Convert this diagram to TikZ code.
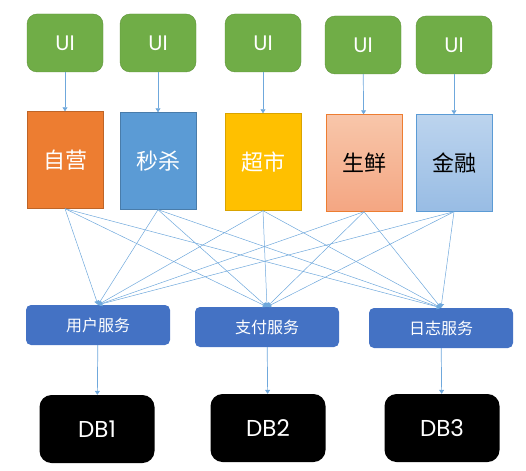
\documentclass[tikz,border=0pt]{standalone}
\usepackage{fontspec}
\setmainfont{Poppins}
\newfontfamily\cjk{Noto Sans CJK SC}
\usetikzlibrary{arrows.meta}
\definecolor{uigreen}{HTML}{70AD47}
\definecolor{uiedge}{HTML}{5E9339}
\definecolor{bizorange}{HTML}{ED7D31}
\definecolor{bizblue}{HTML}{5B9BD5}
\definecolor{bizyellow}{HTML}{FFC000}
\definecolor{freshtop}{HTML}{F8C6AA}
\definecolor{freshbot}{HTML}{F4A682}
\definecolor{fintop}{HTML}{BCD4EE}
\definecolor{finbot}{HTML}{98BCE4}
\definecolor{svcblue}{HTML}{4472C4}
\definecolor{linkblue}{HTML}{6FA8DC}
\begin{document}
\begin{tikzpicture}[x=1pt,y=-1pt,>={Triangle[width=5pt,length=4pt]},
  ui/.style={draw=uiedge,fill=uigreen,rounded corners=10pt,minimum width=76pt,
    minimum height=58pt,text=white,font=\fontsize{21}{21}\selectfont},
  biz/.style={draw,minimum width=76pt,minimum height=97pt,
    font=\cjk\fontsize{22}{22}\selectfont},
  svc/.style={fill=svcblue,rounded corners=5pt,minimum width=144pt,
    minimum height=40pt,text=white,font=\cjk\fontsize{16}{16}\selectfont},
  db/.style={fill=black,rounded corners=12pt,minimum width=115pt,
    minimum height=68pt,text=white,font=\fontsize{23}{23}\selectfont},
  edge/.style={->,draw=linkblue,line width=0.7pt},
  link/.style={->,draw=linkblue,line width=0.5pt}]
\useasboundingbox (0,0) rectangle (526,470);
% front ends
\node[ui] (ui1) at (65,43) {UI};
\node[ui] (ui2) at (158,43) {UI};
\node[ui] (ui3) at (263,43) {UI};
\node[ui] (ui4) at (363,45) {UI};
\node[ui] (ui5) at (454,45) {UI};
% business lines
\node[biz,draw=bizorange!80!black,fill=bizorange,text=white] (ziying) at (65,160) {自营};
\node[biz,draw=bizblue!80!black,fill=bizblue,text=white] (miaosha) at (158,161) {秒杀};
\node[biz,draw=bizyellow!85!black,fill=bizyellow,text=white] (chaoshi) at (263,162) {超市};
\node[biz,draw=bizorange,top color=freshtop,bottom color=freshbot,
  text=black] (shengxian) at (364,163) {生鲜};
\node[biz,draw=bizblue,top color=fintop,bottom color=finbot,
  text=black] (jinrong) at (454,163) {金融};
% shared services
\node[svc] (user) at (98,325) {用户服务};
\node[svc] (pay) at (267,327) {支付服务};
\node[svc] (log) at (441,328) {日志服务};
% databases
\node[db] (db1) at (97,429) {DB1};
\node[db] (db2) at (268,428) {DB2};
\node[db] (db3) at (442,428) {DB3};
\draw[edge] (ui1)--(ziying);
\draw[edge] (ui2)--(miaosha);
\draw[edge] (ui3)--(chaoshi);
\draw[edge] (ui4)--(shengxian);
\draw[edge] (ui5)--(jinrong);
\draw[link] (ziying.south)--(user.north);
\draw[link] (ziying.south)--(pay.north);
\draw[link] (ziying.south)--(log.north);
\draw[link] (miaosha.south)--(user.north);
\draw[link] (miaosha.south)--(pay.north);
\draw[link] (miaosha.south)--(log.north);
\draw[link] (chaoshi.south)--(user.north);
\draw[link] (chaoshi.south)--(pay.north);
\draw[link] (chaoshi.south)--(log.north);
\draw[link] (shengxian.south)--(user.north);
\draw[link] (shengxian.south)--(pay.north);
\draw[link] (shengxian.south)--(log.north);
\draw[link] (jinrong.south)--(user.north);
\draw[link] (jinrong.south)--(pay.north);
\draw[link] (jinrong.south)--(log.north);
\draw[edge] (user)--(db1);
\draw[edge] (pay)--(db2);
\draw[edge] (log)--(db3);
\end{tikzpicture}
\end{document}
